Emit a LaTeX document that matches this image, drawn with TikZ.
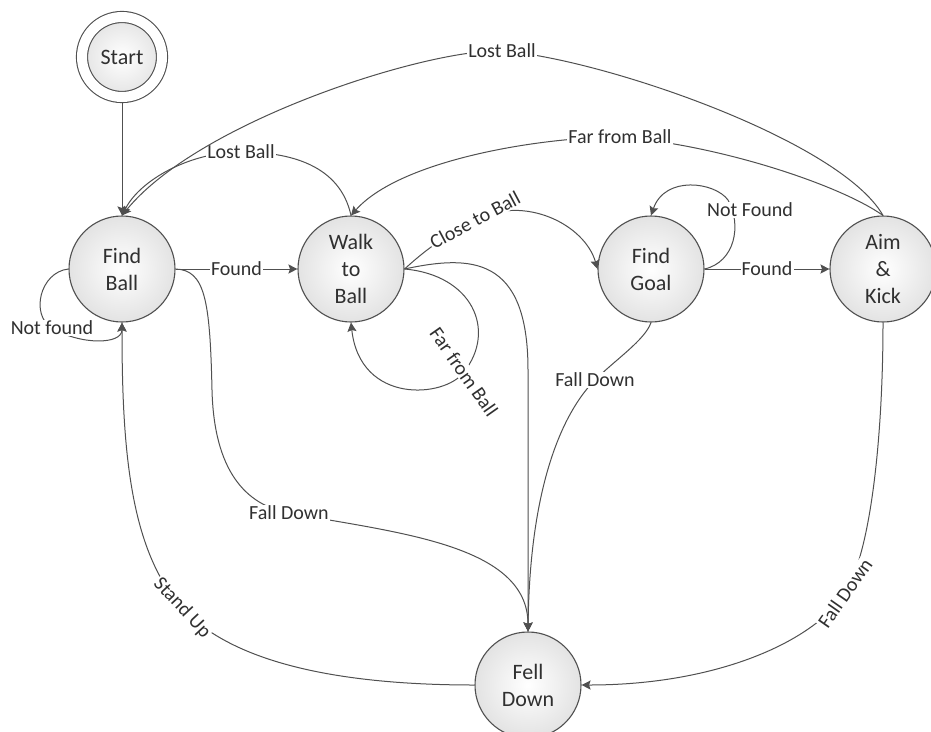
\documentclass[tikz,border=0pt]{standalone}
\usepackage{fontspec}
\setmainfont{Carlito}
\usetikzlibrary{positioning}
\usetikzlibrary{arrows.meta, automata}

\definecolor{edgegray}{HTML}{505050}
\definecolor{txtgray}{HTML}{303030}

\begin{document}
\begin{tikzpicture}[
            x = 1pt, y = -1pt, % pixel grid, y pointing down
            > = {Stealth[length=9pt, width=9pt, inset=1.5pt]}, % arrow head style
            on grid, % distances between centres
            trans/.style = {draw = edgegray, line width = 1pt, ->},
            lbl/.style = {fill = white, inner sep = 1pt, text = txtgray,
                          font = \fontsize{20}{24}\selectfont}
        ]

        \tikzstyle{every state}=[
            draw = edgegray,
            line width = 1.1pt,
            inner color = white,
            outer color = black!11,
            minimum size = 106pt,
            align = center,
            text = txtgray,
            font = \fontsize{22}{27}\selectfont
        ]

        \path[use as bounding box, fill = white] (0,0) rectangle (931,731);

        \node[state] (find) at (122,269) {Find\\Ball};
        \node[state] (walk) [right=229pt of find] {Walk\\to\\Ball};
        \node[state] (goal) [right=300pt of walk] {Find\\Goal};
        \node[state] (aim) [right=232pt of goal] {Aim\\\&\\Kick};
        \node[state] (fell) [below right=416pt and 406pt of find] {Fell\\Down};
        \node[state, double, double distance=10pt, minimum size=80pt, outer sep=6pt] (start) [above=212pt of find] {Start};

        \draw[trans] (start) -- (find);

        % from Find Ball
        \draw[trans] (find) -- node[lbl] {Found} (walk);
        \draw[trans] (find.west) .. controls (40,272) and (30,315) .. (52,328) node[lbl] {Not found}
            .. controls (80,345) and (122,345) .. (find.south);
        \draw[trans] (find.east) .. controls (205,270) and (210,300) .. (212,390)
            .. controls (214,470) and (245,505) .. (289,513) node[lbl] {Fall Down}
            .. controls (399,533) and (528,545) .. (fell.north);

        % from Walk to Ball
        \draw[trans] (walk.north) .. controls (340,165) and (290,152) .. (241,152) node[lbl] {Lost Ball}
            .. controls (190,152) and (140,180) .. (find.north);
        \draw[trans] (walk.east) .. controls (420,255) and (440,238) .. (475,220) node[lbl, rotate=28] {Close to Ball}
            .. controls (525,194) and (585,225) .. (goal.west);
        \draw[trans] (walk.east) .. controls (470,255) and (528,255) .. (528,370) -- (fell.north);
        \draw[trans] (walk.east) .. controls (472,275) and (497,330) .. (464,372) node[lbl, rotate=-55] {Far from Ball}
            .. controls (445,398) and (360,405) .. (walk.south);

        % from Find Goal
        \draw[trans] (goal) -- node[lbl] {Found} (aim);
        \draw[trans] (goal.east) .. controls (735,262) and (742,225) .. (728,200)
            node[lbl, xshift=22pt, yshift=-10pt] {Not Found}
            .. controls (715,182) and (665,175) .. (goal.north);
        \draw[trans] (goal.south) .. controls (645,340) and (615,360) .. (595,380) node[lbl] {Fall Down}
            .. controls (570,405) and (530,470) .. (fell.north);

        % from Aim & Kick
        \draw[trans] (aim.north) .. controls (840,140) and (600,58) .. (502,51) node[lbl] {Lost Ball}
            .. controls (430,48) and (200,120) .. (find.north);
        \draw[trans] (aim.north) .. controls (840,185) and (720,145) .. (620,137) node[lbl] {Far from Ball}
            .. controls (540,137) and (400,160) .. (walk.north);
        \draw[trans] (aim.south) .. controls (883,430) and (872,550) .. (845,593) node[lbl, rotate=55] {Fall Down}
            .. controls (815,640) and (720,685) .. (fell.east);

        % from Fell Down
        \draw[trans] (fell.west) .. controls (330,685) and (230,660) .. (182,608) node[lbl, rotate=-47] {Stand Up}
            .. controls (130,550) and (122,450) .. (find.south);

\end{tikzpicture}
\end{document}
